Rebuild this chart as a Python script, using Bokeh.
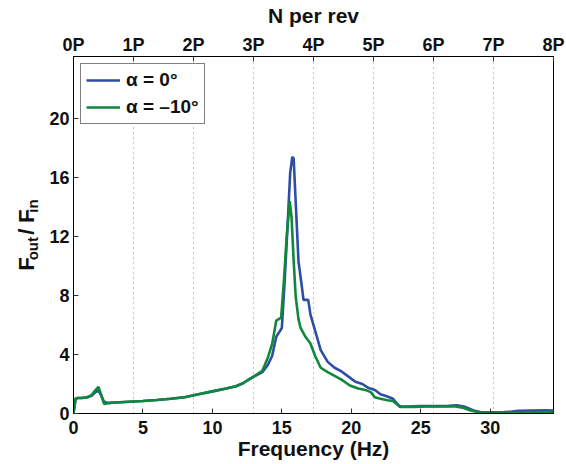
from math import pi
from bokeh.plotting import figure
from bokeh.layouts import row
from bokeh.models import (Range1d, LinearAxis, FixedTicker, Grid, Legend, LegendItem, Label)
from bokeh.embed import file_html
from bokeh.resources import INLINE

# ---------------- data ----------------
rev_freq = 4.32                      # Hz per rev (1P)
rev_ticks = [0, 1, 2, 3, 4, 5, 6, 7, 8]
rev_tick_labels = ["0P", "1P", "2P", "3P", "4P", "5P", "6P", "7P", "8P"]
freq_ticks = [0, 5, 10, 15, 20, 25, 30]
ratio_ticks = [0, 4, 8, 12, 16, 20]
series_labels = ["α = 0°", "α = –10°"]

freq_a0 = [0, 0.15, 0.3, 0.6, 1.0, 1.3, 1.6, 1.8, 1.95, 2.2, 2.5, 3.0, 4.0, 5.0, 6.0,
           7.0, 8.0, 9.0, 10.0, 11.0, 11.7, 12.2, 12.7, 13.2, 13.6, 14.0, 14.3, 14.6,
           14.8, 15.0, 15.2, 15.4, 15.6, 15.75, 15.85, 16.0, 16.2, 16.4, 16.56, 16.9,
           17.06, 17.4, 17.8, 18.3, 18.8, 19.3, 19.8, 20.3, 20.8, 21.2, 21.7, 22.1,
           22.6, 23.0, 23.5, 24.0, 25.0, 26.0, 27.0, 27.6, 28.2, 28.8, 29.3, 30.0,
           31.0, 31.5, 32.0, 33.0, 34.0, 34.56]
ratio_a0 = [0, 1.0, 1.05, 1.05, 1.1, 1.2, 1.45, 1.55, 1.3, 0.8, 0.72, 0.75, 0.8, 0.85,
            0.92, 1.0, 1.1, 1.3, 1.5, 1.7, 1.85, 2.05, 2.35, 2.6, 2.8, 3.3, 3.9, 5.2,
            5.5, 5.8, 8.9, 12.5, 16.3, 17.4, 17.3, 14.3, 10.3, 8.9, 7.7, 7.7, 6.7,
            5.6, 4.3, 3.5, 3.1, 2.85, 2.5, 2.15, 2.0, 1.75, 1.6, 1.3, 1.15, 1.0, 0.45,
            0.47, 0.5, 0.5, 0.52, 0.55, 0.45, 0.2, 0.1, 0.08, 0.1, 0.12, 0.18, 0.2,
            0.22, 0.2]

freq_a10 = [0, 0.15, 0.3, 0.6, 1.0, 1.3, 1.6, 1.8, 1.95, 2.2, 2.5, 3.0, 4.0, 5.0, 6.0,
            7.0, 8.0, 9.0, 10.0, 11.0, 11.7, 12.2, 12.7, 13.2, 13.6, 14.0, 14.3, 14.6,
            14.95, 15.15, 15.35, 15.57, 15.7, 15.85, 16.0, 16.2, 16.35, 16.7, 17.06,
            17.4, 17.8, 18.3, 18.8, 19.3, 19.9, 20.5, 21.0, 21.4, 21.7, 22.1, 22.6,
            23.0, 23.4, 23.7, 24.5, 25.5, 26.5, 27.5, 28.0, 28.6, 29.2, 30.0, 31.0,
            32.0, 33.0, 34.0, 34.56]
ratio_a10 = [0, 1.0, 1.05, 1.05, 1.1, 1.25, 1.6, 1.8, 1.4, 0.65, 0.7, 0.75, 0.8, 0.85,
             0.92, 1.0, 1.1, 1.3, 1.5, 1.7, 1.85, 2.05, 2.35, 2.65, 2.9, 3.8, 4.7, 6.3,
             6.5, 9.0, 12.0, 14.4, 13.3, 10.4, 7.9, 6.4, 5.8, 5.2, 4.75, 3.9, 3.1,
             2.8, 2.55, 2.3, 1.9, 1.7, 1.6, 1.45, 1.1, 1.0, 0.9, 0.85, 0.55, 0.45,
             0.45, 0.47, 0.47, 0.48, 0.4, 0.2, 0.08, 0.06, 0.06, 0.07, 0.08, 0.1, 0.1]

# ---------------- styling ----------------
FONT = "Liberation Sans"
TXT = "#111111"
BLUE = "#2E4EA5"
GREEN = "#0F873D"

H = 464
LW = 40                      # width of the y-title strip
W = 526                      # main figure width
BL, BR, BT, BB = 33, 13, 55, 51
XMAX = rev_ticks[-1] * rev_freq
YMAX = 24.2

p = figure(width=W, height=H,
           x_range=Range1d(0, XMAX), y_range=Range1d(0, YMAX),
           x_axis_location=None, y_axis_location=None,
           output_backend="svg", toolbar_location=None,
           min_border_left=BL, min_border_right=BR, min_border_top=BT, min_border_bottom=BB)
p.background_fill_color = "white"
p.border_fill_color = "white"
p.outline_line_color = "black"
p.outline_line_width = 1
p.xgrid.visible = False
p.ygrid.visible = False

p.extra_x_ranges = {"rev": Range1d(rev_ticks[0], rev_ticks[-1])}
top_axis = LinearAxis(x_range_name="rev", ticker=FixedTicker(ticks=rev_ticks),
                      major_label_overrides={t: l for t, l in zip(rev_ticks, rev_tick_labels)},
                      axis_label="N per rev")
bottom_axis = LinearAxis(ticker=FixedTicker(ticks=freq_ticks), axis_label="Frequency (Hz)")
left_axis = LinearAxis(ticker=FixedTicker(ticks=ratio_ticks))
p.add_layout(top_axis, "above")
p.add_layout(bottom_axis, "below")
p.add_layout(left_axis, "left")

for ax in [bottom_axis, left_axis, top_axis]:
    ax.major_tick_in = 5
    ax.major_tick_out = 0
    ax.minor_tick_in = 0
    ax.minor_tick_out = 0
    ax.axis_line_color = "black"
    ax.major_tick_line_color = "#333333"
    ax.major_label_text_font = FONT
    ax.major_label_text_font_style = "bold"
    ax.major_label_text_font_size = "18px"
    ax.major_label_text_color = TXT
    ax.axis_label_text_font = FONT
    ax.axis_label_text_font_style = "bold"
    ax.axis_label_text_font_size = "21px"
    ax.axis_label_text_color = TXT
bottom_axis.major_label_standoff = 7
bottom_axis.axis_label_standoff = 0
top_axis.major_label_standoff = 2
top_axis.axis_label_standoff = 5
left_axis.major_label_standoff = 4

# dotted vertical lines at each rev harmonic
p.add_layout(Grid(dimension=0, ticker=FixedTicker(ticks=[k * rev_freq for k in rev_ticks[1:-1]]),
                  grid_line_color="#8a8a8a", grid_line_dash="1 4", grid_line_width=1))

r0 = p.line(freq_a0, ratio_a0, line_color=BLUE, line_width=2.6)
r1 = p.line(freq_a10, ratio_a10, line_color=GREEN, line_width=2.6)

legend = Legend(items=[LegendItem(label=series_labels[0], renderers=[r0]),
                       LegendItem(label=series_labels[1], renderers=[r1])],
                location="top_left", margin=7, padding=5, spacing=5,
                glyph_width=34, glyph_height=20, label_height=20, label_standoff=6,
                label_text_font=FONT, label_text_font_style="bold",
                label_text_font_size="19px", label_text_color=TXT,
                border_line_color="black", border_line_width=1,
                background_fill_color="white", background_fill_alpha=1)
p.add_layout(legend)

# ---------- y-axis title strip: F_out / F_in (rotated, built from parts) ----------
ylab = figure(width=LW, height=H, x_range=Range1d(0, LW), y_range=Range1d(0, H),
              x_axis_location=None, y_axis_location=None,
              output_backend="svg", toolbar_location=None, min_border=0)
ylab.outline_line_color = None
ylab.xgrid.visible = False
ylab.ygrid.visible = False
ylab.background_fill_color = "white"
ylab.border_fill_color = "white"

MAIN, SUB = 22, 15
widths = {"F": 0.611, "o": 0.611, "u": 0.611, "t": 0.333, "/": 0.278, "i": 0.278, "n": 0.611}
parts = [("F", MAIN, 0), ("out", SUB, 1), ("/", MAIN, 0), ("F", MAIN, 0), ("in", SUB, 1)]
gaps = [0, 0, 10, 9, 0]
adv = [sum(widths[c] for c in t) * s for t, s, _ in parts]
total = sum(adv) + sum(gaps)
center_y = H - (BT + (H - BT - BB) / 2)
ypos = center_y - total / 2
for (t, s, sub), a, g in zip(parts, adv, gaps):
    ypos += g
    ylab.add_layout(Label(x=26 + (6 if sub else 0), y=ypos, text=t, angle=pi / 2,
                          text_align="left", text_baseline="alphabetic",
                          text_font=FONT, text_font_style="bold", text_font_size=f"{s}px",
                          text_color=TXT))
    ypos += a

layout = row(ylab, p, spacing=0)
open("out.html", "w").write(file_html(layout, INLINE))
